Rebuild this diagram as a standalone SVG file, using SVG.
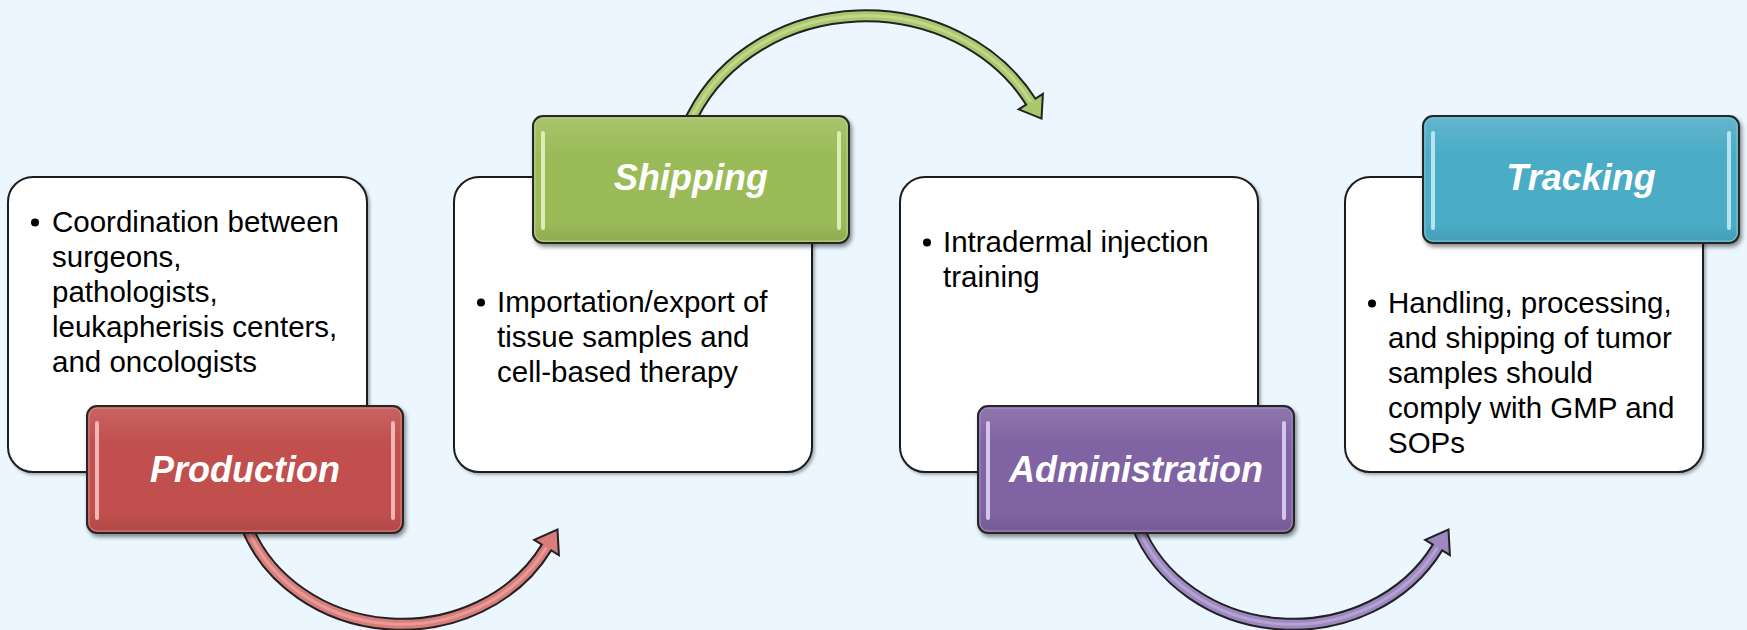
<svg xmlns="http://www.w3.org/2000/svg" width="1747" height="630" viewBox="0 0 1747 630">
  <defs>
    <filter id="drop" x="-10%" y="-10%" width="125%" height="130%">
      <feDropShadow dx="2" dy="3" stdDeviation="2" flood-color="#000" flood-opacity="0.45"/>
    </filter>
    <filter id="soft" x="-5%" y="-5%" width="112%" height="112%">
      <feDropShadow dx="2" dy="2" stdDeviation="1.5" flood-color="#000" flood-opacity="0.3"/>
    </filter>
    <linearGradient id="gloss" x1="0" y1="0" x2="0" y2="1">
      <stop offset="0" stop-color="#fff" stop-opacity="0.12"/>
      <stop offset="0.3" stop-color="#fff" stop-opacity="0"/>
      <stop offset="0.85" stop-color="#000" stop-opacity="0"/>
      <stop offset="1" stop-color="#000" stop-opacity="0.08"/>
    </linearGradient>
    <style>
      .card { fill:#ffffff; stroke:#1e1e1e; stroke-width:2; filter:url(#soft); }
      .tab { stroke:#262626; stroke-width:2; filter:url(#drop); }
      .sheen { fill:url(#gloss); stroke-width:1; stroke-opacity:0.6; }
      .body { font-family:"Liberation Sans", Arial, sans-serif; font-size:29.5px; fill:#000; }
      .title { font-family:"Liberation Sans", Arial, sans-serif; font-size:36px; font-weight:bold; font-style:italic; fill:#fff; text-anchor:middle; }
      .sh-out { fill:none; stroke:#222; stroke-width:13; }
      .sh-in { fill:none; stroke-width:9; }
      .sh-hi { fill:none; stroke-width:3; stroke-opacity:0.55; }
      .head { stroke:#222; stroke-width:2; stroke-linejoin:miter; }
    </style>
  </defs>

  <rect width="1747" height="630" fill="#EBF6FE"/>

  <!-- curved connectors between stages -->
  <g id="connectors">
    <g id="arrow-production-shipping">
      <path class="sh-out" d="M 246 525 A 165 148 0 0 0 546.5 547.5 L 548.1 544.9"/>
      <polygon class="head" fill="#D97D7A" points="557.5,529.6 558.9,555.1 534.2,539.9"/>
      <path class="sh-in" stroke="#D97D7A" d="M 246 525 A 165 148 0 0 0 546.5 547.5 L 548.1 544.9"/>
      <path class="sh-hi" stroke="#F0B4B2" d="M 246 525 A 165 148 0 0 0 546.5 547.5"/>
    </g>
    <g id="arrow-shipping-administration">
      <path class="sh-out" d="M 688 124.8 L 693 115 A 190 170 0 0 1 1030.8 101.7 L 1032.4 104.2"/>
      <polygon class="head" fill="#A9C86C" points="1041.5,118.6 1042.9,94 1018.7,109.4"/>
      <path class="sh-in" stroke="#A9C86C" d="M 688 124.8 L 693 115 A 190 170 0 0 1 1030.8 101.7 L 1032.4 104.2"/>
      <path class="sh-hi" stroke="#D4E6A8" d="M 688 124.8 L 693 115 A 190 170 0 0 1 1030.8 101.7"/>
    </g>
    <g id="arrow-administration-tracking">
      <path class="sh-out" d="M 1137 525 A 165 148 0 0 0 1437.5 547.5 L 1439.1 544.9"/>
      <polygon class="head" fill="#9D88C0" points="1448.5,529.6 1449.9,555.1 1425.2,539.9"/>
      <path class="sh-in" stroke="#9D88C0" d="M 1137 525 A 165 148 0 0 0 1437.5 547.5 L 1439.1 544.9"/>
      <path class="sh-hi" stroke="#C7B9E0" d="M 1137 525 A 165 148 0 0 0 1437.5 547.5"/>
    </g>
  </g>

  <!-- stage 1 -->
  <g id="production">
    <rect class="card" x="8" y="177" width="359" height="295" rx="25"/>
    <circle cx="35" cy="222.5" r="4"/>
    <text class="body" x="52" y="232">
      <tspan x="52">Coordination between</tspan>
      <tspan x="52" dy="35">surgeons,</tspan>
      <tspan x="52" dy="35">pathologists,</tspan>
      <tspan x="52" dy="35">leukapherisis centers,</tspan>
      <tspan x="52" dy="35">and oncologists</tspan>
    </text>
    <rect class="tab" x="87" y="406" width="316" height="127" rx="10" fill="#C0504D"/>
    <rect class="sheen" x="89" y="408" width="312" height="123" rx="8" stroke="#E7A3A1"/>
    <rect x="95" y="421" width="4" height="99" rx="2" fill="#F0B7B5"/>
    <rect x="391" y="421" width="4" height="99" rx="2" fill="#F0B7B5"/>
    <text class="title" x="245" y="482">Production</text>
  </g>

  <!-- stage 2 -->
  <g id="shipping">
    <rect class="card" x="454" y="177" width="358" height="295" rx="25"/>
    <circle cx="481" cy="302.5" r="4"/>
    <text class="body" x="497" y="312">
      <tspan x="497">Importation/export of</tspan>
      <tspan x="497" dy="35">tissue samples and</tspan>
      <tspan x="497" dy="35">cell-based therapy</tspan>
    </text>
    <rect class="tab" x="533" y="116" width="316" height="127" rx="10" fill="#9BBB59"/>
    <rect class="sheen" x="535" y="118" width="312" height="123" rx="8" stroke="#CFE2A3"/>
    <rect x="541" y="131" width="4" height="99" rx="2" fill="#DDEBB4"/>
    <rect x="837" y="131" width="4" height="99" rx="2" fill="#DDEBB4"/>
    <text class="title" x="691" y="190">Shipping</text>
  </g>

  <!-- stage 3 -->
  <g id="administration">
    <rect class="card" x="900" y="177" width="358" height="295" rx="25"/>
    <circle cx="927" cy="242.5" r="4"/>
    <text class="body" x="943" y="252">
      <tspan x="943">Intradermal injection</tspan>
      <tspan x="943" dy="35">training</tspan>
    </text>
    <rect class="tab" x="978" y="406" width="316" height="127" rx="10" fill="#8064A2"/>
    <rect class="sheen" x="980" y="408" width="312" height="123" rx="8" stroke="#B9A6D6"/>
    <rect x="986" y="421" width="4" height="99" rx="2" fill="#D3C6EA"/>
    <rect x="1282" y="421" width="4" height="99" rx="2" fill="#D3C6EA"/>
    <text class="title" x="1136" y="482">Administration</text>
  </g>

  <!-- stage 4 -->
  <g id="tracking">
    <rect class="card" x="1345" y="177" width="358" height="295" rx="25"/>
    <circle cx="1372" cy="303.5" r="4"/>
    <text class="body" x="1388" y="313">
      <tspan x="1388">Handling, processing,</tspan>
      <tspan x="1388" dy="35">and shipping of tumor</tspan>
      <tspan x="1388" dy="35">samples should</tspan>
      <tspan x="1388" dy="35">comply with GMP and</tspan>
      <tspan x="1388" dy="35">SOPs</tspan>
    </text>
    <rect class="tab" x="1423" y="116" width="316" height="127" rx="10" fill="#4BACC6"/>
    <rect class="sheen" x="1425" y="118" width="312" height="123" rx="8" stroke="#9ED6E5"/>
    <rect x="1431" y="131" width="4" height="99" rx="2" fill="#B8E4EF"/>
    <rect x="1727" y="131" width="4" height="99" rx="2" fill="#B8E4EF"/>
    <text class="title" x="1581" y="190">Tracking</text>
  </g>
</svg>
